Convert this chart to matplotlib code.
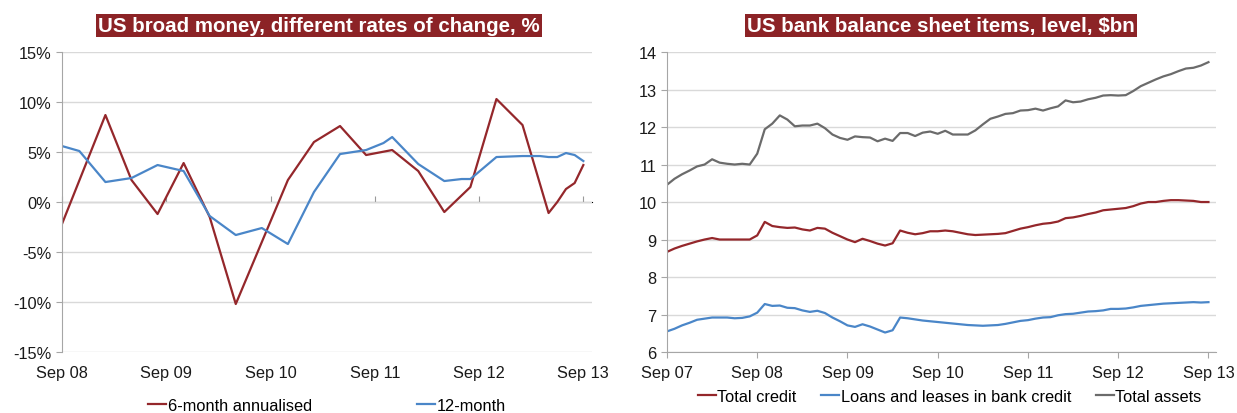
import matplotlib
matplotlib.use('Agg')
import numpy as np
from matplotlib import pyplot as plt

plt.rcParams['font.family'] = ['Liberation Sans', 'DejaVu Sans']

RED = '#94272b'
BLUE = '#4a86c8'
GREY = '#6b6b6b'
TITLE_BG = '#8c2326'

# left chart: months since Sep 08
money_ticks = ['Sep 08', 'Sep 09', 'Sep 10', 'Sep 11', 'Sep 12', 'Sep 13']
six_m_months = [0, 5, 8, 11, 14, 17, 20, 23, 26, 29, 32, 35, 38, 41, 44, 47, 50, 53, 56, 57, 58, 59, 60]
six_m_vals = [-2.2, 8.7, 2.2, -1.2, 3.9, -1.5, -10.2, -4.0, 2.2, 6.0, 7.6, 4.7, 5.2, 3.1, -1.0, 1.5,
              10.3, 7.7, -1.1, 0.0, 1.3, 1.9, 3.7]
twelve_m_months = [0, 2, 5, 8, 11, 14, 17, 20, 23, 26, 29, 32, 35, 37, 38, 41, 44, 46, 47, 50, 53,
                   55, 56, 57, 58, 59, 60]
twelve_m_vals = [5.6, 5.1, 2.0, 2.4, 3.7, 3.1, -1.4, -3.3, -2.6, -4.2, 1.0, 4.8, 5.2, 5.9, 6.5, 3.8,
                 2.1, 2.3, 2.3, 4.5, 4.6, 4.6, 4.5, 4.5, 4.9, 4.7, 4.1]

# right chart: monthly, Sep 07 .. Sep 13
bank_ticks = ['Sep 07', 'Sep 08', 'Sep 09', 'Sep 10', 'Sep 11', 'Sep 12', 'Sep 13']
total_credit = [8.67, 8.76, 8.83, 8.89, 8.95, 9.0, 9.04, 9.0, 9.0, 9.0, 9.0, 9.0,
                9.11, 9.47, 9.36, 9.33, 9.31, 9.32, 9.27, 9.24, 9.31, 9.29, 9.18, 9.09,
                9.0, 8.93, 9.02, 8.96, 8.89, 8.84, 8.9, 9.24, 9.18, 9.14, 9.17, 9.22,
                9.22,
                9.24, 9.22, 9.18, 9.14, 9.12, 9.13, 9.14, 9.15, 9.17, 9.23, 9.29, 9.33,
                9.38, 9.42, 9.44, 9.48, 9.57, 9.59, 9.63, 9.68, 9.72, 9.78, 9.8, 9.82,
                9.84, 9.89, 9.96, 10.0, 10.0, 10.03, 10.05, 10.05, 10.04, 10.03, 10.0, 10.0]
loans_leases = [6.55, 6.62, 6.71, 6.78, 6.86, 6.89, 6.92, 6.92, 6.92, 6.9, 6.91, 6.95,
                7.05, 7.28, 7.23, 7.24, 7.18, 7.17, 7.11, 7.07, 7.1, 7.04, 6.92, 6.82,
                6.71, 6.67, 6.74, 6.68, 6.6, 6.52, 6.58, 6.92, 6.9, 6.87, 6.84, 6.82,
                6.8,
                6.78, 6.76, 6.74, 6.72, 6.71, 6.7, 6.71, 6.72, 6.75, 6.79, 6.83, 6.85,
                6.89, 6.92, 6.93, 6.98, 7.01, 7.02, 7.05, 7.08, 7.09, 7.11, 7.15, 7.15,
                7.16, 7.19, 7.23, 7.25, 7.27, 7.29, 7.3, 7.31, 7.32, 7.33, 7.32, 7.33]
total_assets = [10.46, 10.62, 10.74, 10.84, 10.95, 11.0, 11.14, 11.05, 11.02, 11.0, 11.02, 11.0,
                11.29, 11.94, 12.09, 12.31, 12.2, 12.02, 12.04, 12.04, 12.09, 11.97, 11.8, 11.71,
                11.66, 11.75, 11.73, 11.72, 11.62, 11.69, 11.63, 11.84, 11.84, 11.76, 11.85, 11.88,
                11.82,
                11.9, 11.8, 11.8, 11.8, 11.91, 12.07, 12.22, 12.28, 12.35, 12.37, 12.44, 12.45,
                12.49, 12.44, 12.5, 12.55, 12.71, 12.66, 12.68, 12.74, 12.78, 12.84, 12.85, 12.84,
                12.85, 12.96, 13.09, 13.18, 13.27, 13.35, 13.41, 13.49, 13.56, 13.58, 13.64, 13.73]

fig = plt.figure(figsize=(12.37, 4.14), dpi=100)
ax1 = fig.add_axes([0.0501, 0.1473, 0.4285, 0.7246])
ax2 = fig.add_axes([0.5392, 0.1473, 0.4438, 0.7246])

# ---- left: broad money
ax1.plot(six_m_months, six_m_vals, color=RED, lw=1.6, label='6-month annualised')
ax1.plot(twelve_m_months, twelve_m_vals, color=BLUE, lw=1.6, label='12-month')
ax1.set_xlim(0, 61)
ax1.set_ylim(-15, 15)
ax1.set_yticks(np.arange(-15, 16, 5))
ax1.set_yticklabels(['%d%%' % v for v in np.arange(-15, 16, 5)])
ax1.set_xticks(np.arange(0, 61, 12))
ax1.set_xticklabels(money_ticks)
ax1.grid(axis='y', color='#d9d9d9', lw=1)
ax1.set_axisbelow(True)
for s in ['top', 'right', 'bottom']:
    ax1.spines[s].set_visible(False)
ax1.spines['left'].set_color('#a6a6a6')
ax1.tick_params(axis='x', length=0, pad=9, labelsize=11.8, colors='#1a1a1a')
ax1.tick_params(axis='y', length=4, color='#a6a6a6', labelsize=11.8, labelcolor='#1a1a1a')
zero_ax = ax1.secondary_xaxis(0.5)
zero_ax.set_xticks(np.arange(0, 61, 12))
zero_ax.set_xticklabels([])
zero_ax.spines['bottom'].set_color('#9a9a9a')
zero_ax.tick_params(length=4, color='#9a9a9a', direction='out')
ax1.legend(loc='center', bbox_to_anchor=(0.5, -0.177), ncol=2, frameon=False, fontsize=11.8,
           handlelength=1.1, handletextpad=0.1, columnspacing=6.4)

# ---- right: bank balance sheet
months = np.arange(len(total_credit))
ax2.plot(months, total_credit, color=RED, lw=1.6, label='Total credit')
ax2.plot(months, loans_leases, color=BLUE, lw=1.6, label='Loans and leases in bank credit')
ax2.plot(months, total_assets, color=GREY, lw=1.6, label='Total assets')
ax2.set_xlim(0, 73)
ax2.set_ylim(6, 14)
ax2.set_yticks(np.arange(6, 15, 1))
ax2.set_xticks(np.arange(0, 73, 12))
ax2.set_xticklabels(bank_ticks)
ax2.grid(axis='y', color='#d9d9d9', lw=1)
ax2.set_axisbelow(True)
for s in ['top', 'right']:
    ax2.spines[s].set_visible(False)
ax2.spines['left'].set_color('#a6a6a6')
ax2.spines['bottom'].set_color('#a6a6a6')
ax2.tick_params(axis='x', length=4, color='#a6a6a6', pad=5, labelsize=11.8, labelcolor='#1a1a1a')
ax2.tick_params(axis='y', length=4, color='#a6a6a6', labelsize=11.8, labelcolor='#1a1a1a')
ax2.legend(loc='center', bbox_to_anchor=(0.515, -0.147), ncol=3, frameon=False, fontsize=11.8,
           handlelength=1.1, handletextpad=0.1, columnspacing=1.5)

# titles in red boxes
fig.text(0.258, 0.935, 'US broad money, different rates of change, %', color='white',
         fontsize=14.8, fontweight='bold', ha='center', va='center',
         bbox=dict(boxstyle='square,pad=0.1', fc=TITLE_BG, ec='none'))
fig.text(0.761, 0.935, 'US bank balance sheet items, level, $bn', color='white',
         fontsize=14.8, fontweight='bold', ha='center', va='center',
         bbox=dict(boxstyle='square,pad=0.1', fc=TITLE_BG, ec='none'))

fig.savefig('out.png', dpi=100)
